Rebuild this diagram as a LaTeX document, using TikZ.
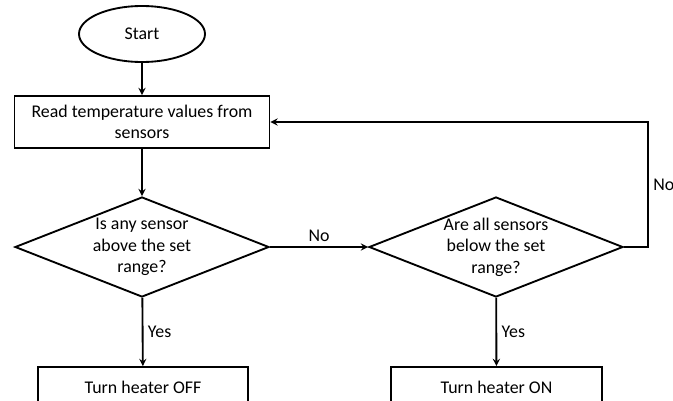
\documentclass[tikz,border=0pt]{standalone}
\usepackage{fontspec}
\setmainfont{Carlito}
\usetikzlibrary{shapes.geometric}

\begin{document}
\begin{tikzpicture}[x=0.75pt,y=-0.75pt,
	every node/.style={font=\fontsize{13.4}{16.2}\selectfont},
	startend/.style={draw,ellipse,line width=1.4pt,minimum width=94.5pt,minimum height=42pt,inner sep=0pt},
	stepbox/.style={draw,rectangle,line width=1.4pt,align=center,inner sep=0pt},
	decision/.style={draw,diamond,line width=1.4pt,align=center,inner sep=0pt,aspect=2.54,minimum width=190.5pt,minimum height=75pt},
	flow/.style={line width=1.4pt,-stealth}]
	    \useasboundingbox (0,0) rectangle (673,400);
	    \clip (0,0) rectangle (673,400);
	    \node[startend] (start) at (142,34) {Start};
	    \node[stepbox,minimum width=191.25pt,minimum height=39pt] (read) at (142,122) {Read temperature values from\\sensors};
	    \node[decision] (abovechk) at (142,247) {Is any sensor\\above the set\\range?};
	    \node[decision] (belowchk) at (496,247) {Are all sensors\\below the set\\range?};
	    \node[stepbox,minimum width=157.5pt,minimum height=30pt] (off) at (143,387) {Turn heater OFF};
	    \node[stepbox,minimum width=158pt,minimum height=30pt] (on) at (496.5,387) {Turn heater ON};
	    \draw[flow] (start)--(read);
	    \draw[flow] (read)--(abovechk);
	    \draw[flow] (abovechk)--(off)node[midway,right]{Yes};
	    \draw[flow] (abovechk)--(belowchk)node[midway,above]{No};
	    \draw[flow] (belowchk)--(on)node[midway,right]{Yes};
	    \draw[flow] (belowchk.east)--++(24,0)|-(read.east)node[pos=.25,right]{No};
\end{tikzpicture}
\end{document}
